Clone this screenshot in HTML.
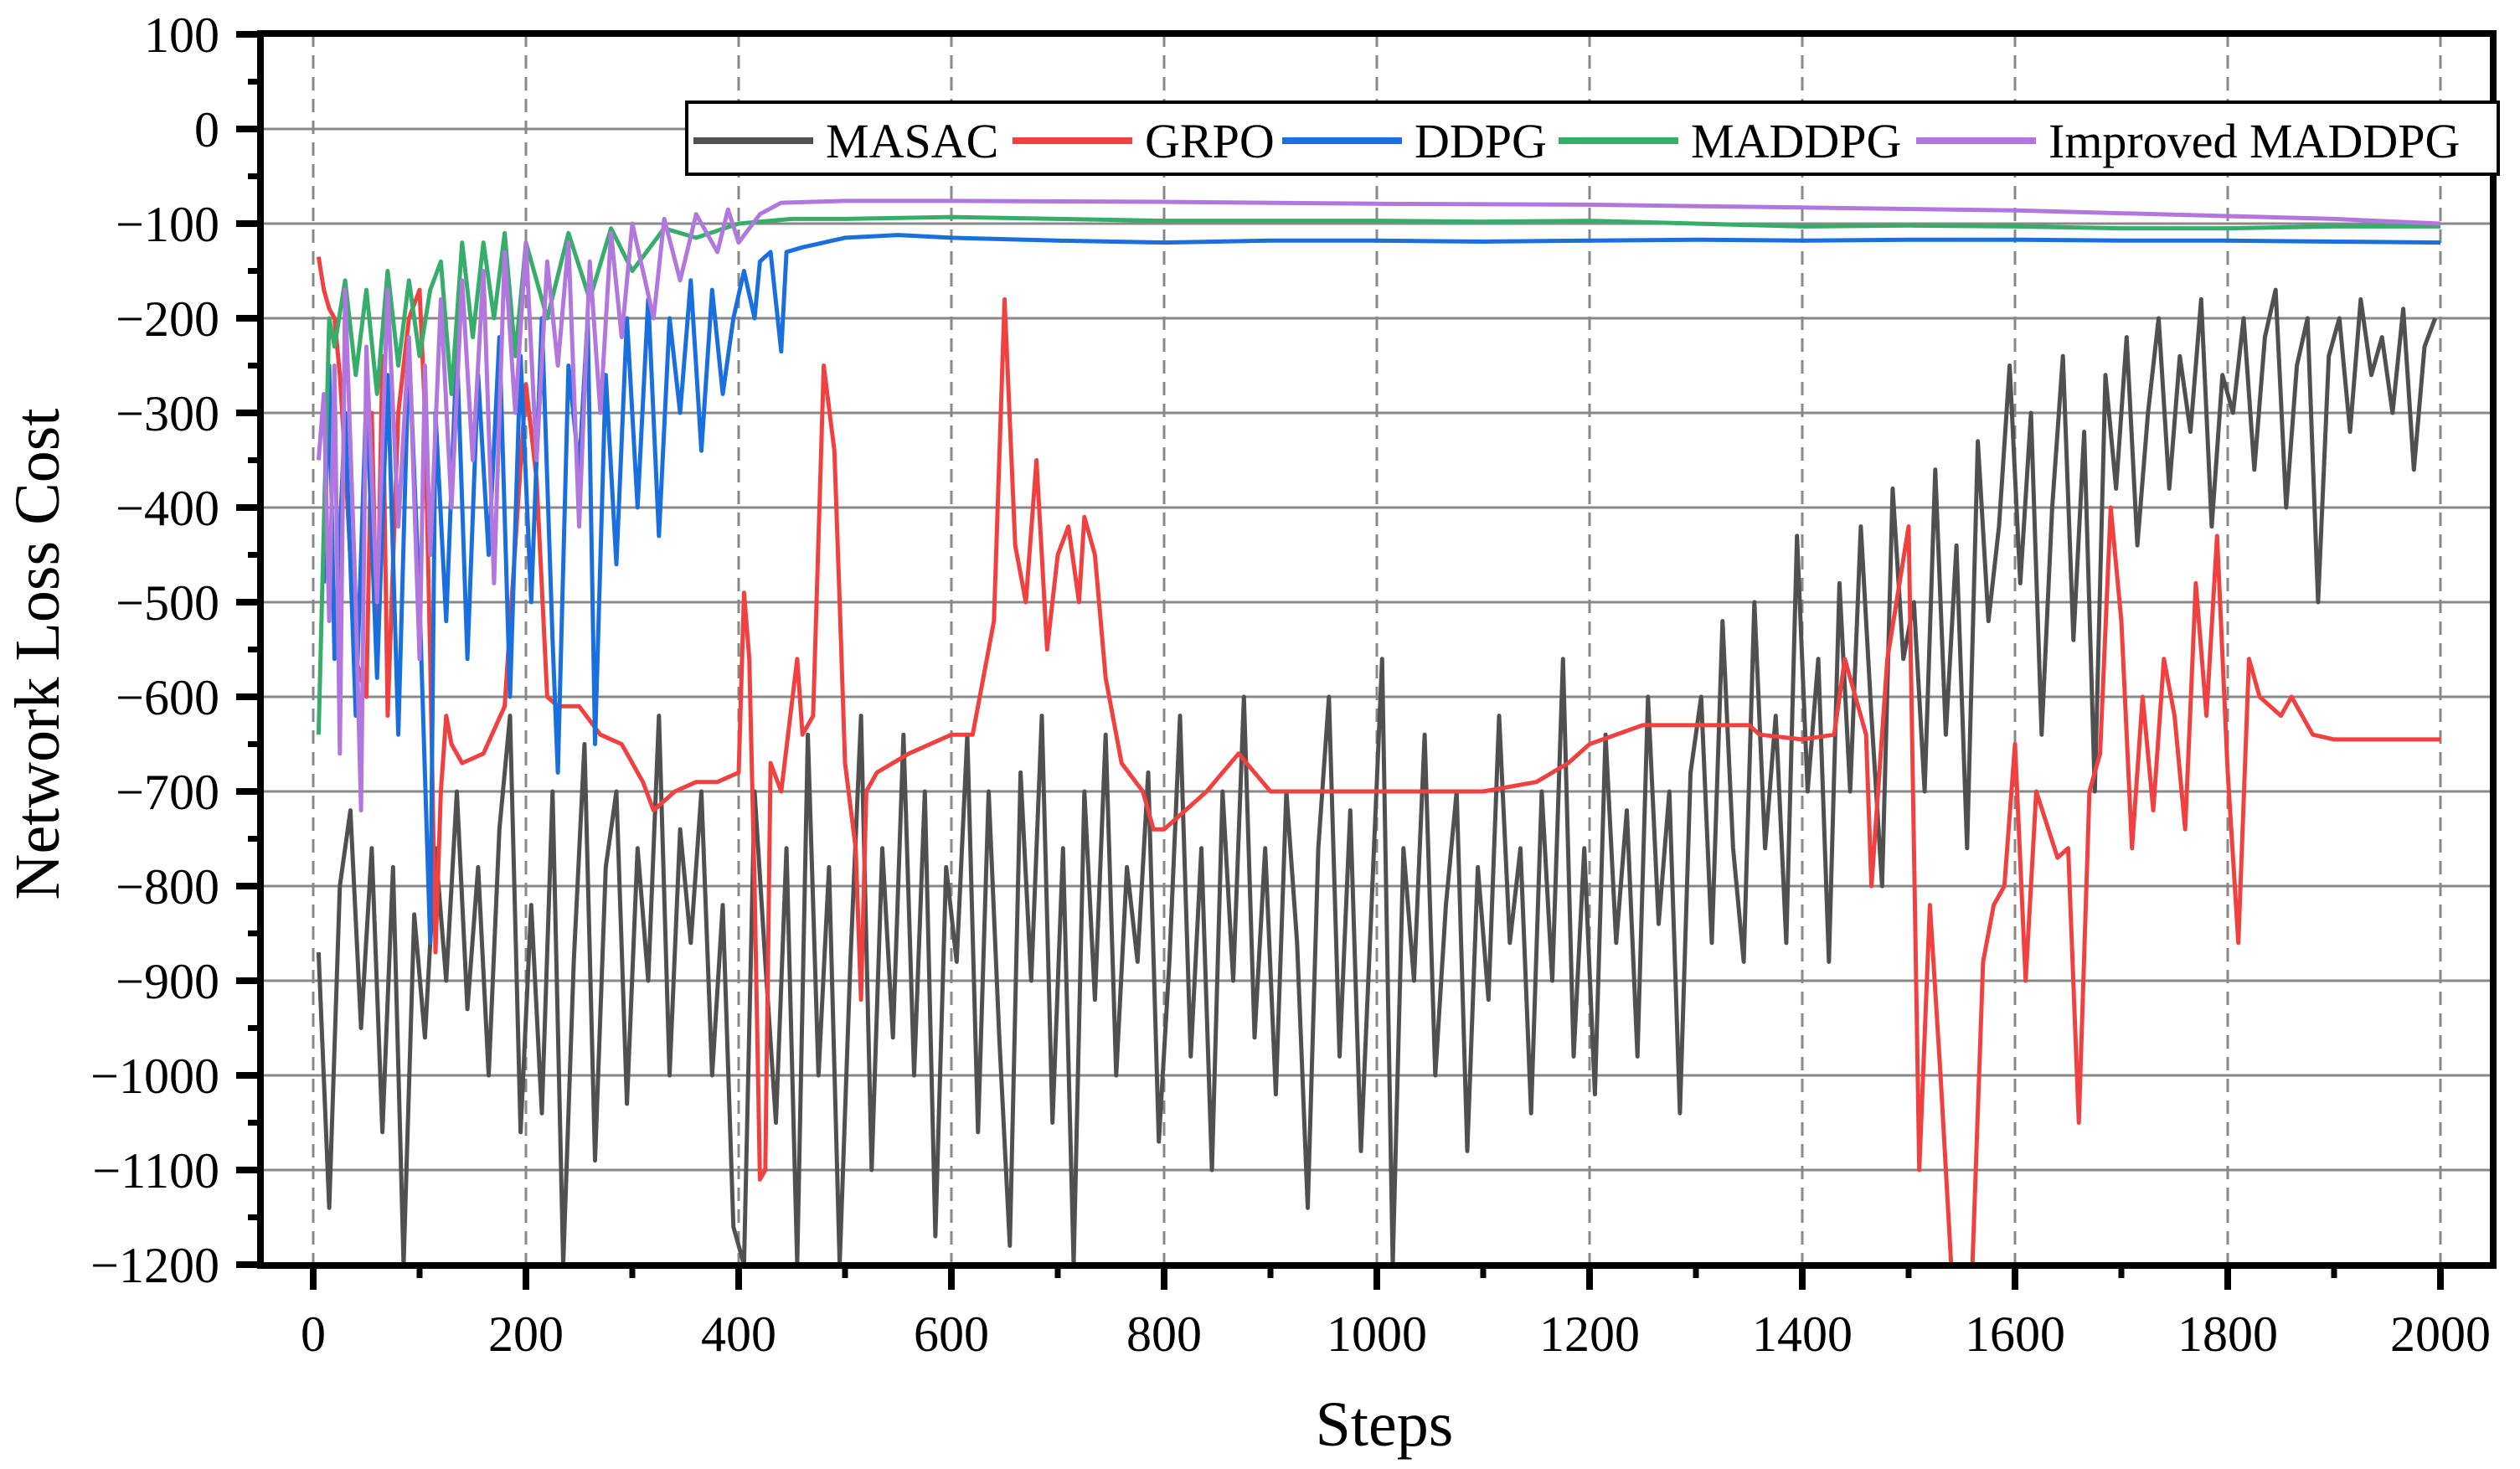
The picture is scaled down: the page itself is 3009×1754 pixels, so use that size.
<!DOCTYPE html>
<html><head><meta charset="utf-8">
<style>
html,body{margin:0;padding:0;background:#fff;}
svg{display:block;}
svg text{font-family:"Liberation Serif","DejaVu Serif",serif;}
</style></head>
<body>
<svg id="chart" width="3009" height="1754" viewBox="0 0 3009 1754" xmlns="http://www.w3.org/2000/svg" font-family="Liberation Serif, serif">
<defs><clipPath id="plotclip"><rect x="311" y="40" width="2666" height="1471"/></clipPath></defs>
<g id="grid"></g>
<g id="series" clip-path="url(#plotclip)"></g>
<g id="axes"></g>
<text font-family="Liberation Serif, serif" x="0" y="0" transform="translate(70,781) rotate(-90)" text-anchor="middle" font-size="76">Network Loss Cost</text>
<text font-family="Liberation Serif, serif" x="1653" y="1726" text-anchor="middle" font-size="76">Steps</text>
<g id="legend"></g>
</svg>
<script>
const xTicks=[0,200,400,600,800,1000,1200,1400,1600,1800,2000];
const yTicks=[100,0,-100,-200,-300,-400,-500,-600,-700,-800,-900,-1000,-1100,-1200];
const seriesNames=["MASAC","GRPO","DDPG","MADDPG","Improved MADDPG"];
const seriesColors=["#505050","#f04040","#1a6fdf","#37ad6b","#b177de"];
const masacSteps=[];for(let i=0;i<200;i++)masacSteps.push(5+i*10);
const masacValues=[
-870,-1140,-800,-720,-950,-760,-1060,-780,-1200,-830,
-960,-760,-900,-700,-930,-780,-1000,-740,-620,-1060,
-820,-1040,-700,-1200,-880,-650,-1090,-780,-700,-1030,
-760,-900,-620,-1000,-740,-860,-700,-1000,-820,-1160,
-1200,-700,-880,-1050,-760,-1200,-640,-1000,-780,-1200,
-880,-620,-1100,-760,-960,-640,-1000,-700,-1170,-780,
-880,-640,-1060,-700,-960,-1180,-680,-900,-620,-1050,
-760,-1200,-700,-920,-640,-1000,-780,-880,-680,-1070,
-880,-620,-980,-760,-1100,-700,-900,-600,-960,-760,
-1020,-700,-860,-1140,-760,-600,-980,-720,-1080,-820,
-560,-1200,-760,-900,-640,-1000,-820,-700,-1080,-780,
-920,-620,-860,-760,-1040,-700,-900,-560,-980,-760,
-1020,-640,-860,-720,-980,-600,-840,-700,-1040,-680,
-600,-860,-520,-760,-880,-500,-760,-620,-860,-430,
-700,-560,-880,-480,-700,-420,-620,-800,-380,-560,
-500,-700,-360,-640,-440,-760,-330,-520,-420,-250,
-480,-300,-640,-400,-240,-540,-320,-700,-260,-380,
-220,-440,-300,-200,-380,-240,-320,-180,-420,-260,
-300,-200,-360,-220,-170,-400,-250,-200,-500,-240,
-200,-320,-180,-260,-220,-300,-190,-360,-230,-200];
const grpoSteps=[5,10,15,20,25,30,40,50,55,60,65,70,80,90,100,105,110,115,120,125,130,140,160,180,200,210,220,230,250,270,290,310,320,340,360,380,400,405,410,415,420,425,430,440,455,460,470,480,490,495,500,510,515,520,530,560,600,620,640,650,660,670,680,690,700,710,720,725,735,745,760,780,790,800,840,870,900,1000,1100,1150,1180,1200,1250,1300,1350,1360,1400,1430,1440,1460,1465,1480,1500,1510,1520,1530,1540,1560,1570,1580,1590,1600,1610,1620,1640,1650,1660,1670,1680,1690,1700,1710,1720,1730,1740,1750,1760,1770,1780,1790,1800,1810,1820,1830,1850,1860,1880,1900,2000];
const grpoValues=[-135,-170,-190,-200,-260,-350,-560,-600,-300,-550,-240,-620,-300,-200,-170,-300,-560,-870,-700,-620,-650,-670,-660,-610,-270,-370,-600,-610,-610,-640,-650,-690,-720,-700,-690,-690,-680,-490,-560,-800,-1110,-1100,-670,-700,-560,-640,-620,-250,-340,-500,-670,-760,-920,-700,-680,-660,-640,-640,-520,-180,-440,-500,-350,-550,-450,-420,-500,-410,-450,-580,-670,-700,-740,-740,-700,-660,-700,-700,-700,-690,-670,-650,-630,-630,-630,-640,-645,-640,-560,-640,-800,-560,-420,-1100,-820,-1000,-1200,-1200,-880,-820,-800,-650,-900,-700,-770,-760,-1050,-700,-660,-400,-520,-760,-600,-720,-560,-620,-740,-480,-620,-430,-680,-860,-560,-600,-620,-600,-640,-645,-645];
const ddpgSteps=[10,15,20,30,40,50,60,70,80,90,100,110,115,125,135,145,155,165,175,185,195,205,215,225,230,240,250,258,265,275,285,295,305,315,325,335,345,355,365,375,385,395,405,415,420,430,440,445,460,500,550,600,700,800,900,1000,1100,1200,1300,1400,1500,1600,1700,1800,1900,2000];
const ddpgValues=[-480,-250,-560,-300,-620,-280,-580,-260,-640,-230,-500,-860,-300,-520,-230,-560,-260,-450,-220,-600,-240,-500,-200,-540,-680,-250,-360,-200,-650,-260,-460,-200,-400,-180,-430,-200,-300,-160,-340,-170,-280,-200,-150,-200,-140,-130,-235,-130,-125,-115,-112,-115,-118,-120,-118,-118,-119,-118,-117,-118,-117,-117,-118,-118,-119,-120];
const maddpgSteps=[5,10,15,20,30,40,50,60,70,80,90,100,110,120,130,140,150,160,170,180,190,200,220,240,260,280,300,330,360,400,450,500,600,700,800,900,1000,1100,1200,1300,1400,1500,1600,1700,1800,1900,2000];
const maddpgValues=[-640,-420,-200,-230,-160,-260,-170,-280,-150,-250,-160,-240,-170,-140,-280,-120,-220,-120,-200,-110,-240,-120,-200,-110,-180,-105,-150,-105,-115,-100,-95,-95,-93,-95,-97,-97,-97,-98,-97,-100,-103,-102,-103,-105,-105,-103,-103];
const improvedSteps=[5,10,15,20,25,30,40,45,50,60,70,80,90,100,105,110,120,130,140,150,160,170,180,190,200,210,220,230,240,250,260,270,280,290,300,320,330,345,360,380,390,400,420,440,500,600,800,1000,1200,1400,1600,1800,1900,2000];
const improvedValues=[-350,-280,-520,-250,-660,-170,-500,-720,-230,-500,-170,-420,-220,-560,-250,-450,-180,-400,-160,-350,-150,-480,-130,-300,-120,-350,-140,-250,-120,-420,-140,-300,-110,-220,-100,-200,-95,-160,-90,-130,-85,-120,-90,-78,-76,-76,-77,-79,-80,-83,-86,-92,-95,-100];

const NS="http://www.w3.org/2000/svg";
const FONT="Liberation Serif, serif";
const X0=311,X1=2977,Y0=40,Y1=1511;
function xs(v){return 374+(v/2000)*2540;}
function ys(v){return 154-(v/100)*113;}
function mk(tag,attrs,parent){const e=document.createElementNS(NS,tag);for(const k in attrs)e.setAttribute(k,attrs[k]);parent.appendChild(e);return e;}
const grid=document.getElementById('grid'),axes=document.getElementById('axes'),ser=document.getElementById('series'),leg=document.getElementById('legend');
yTicks.forEach(t=>{const y=ys(t);if(t<100&&t>-1200){const g=mk('line',{x1:X0,x2:X1,y1:y,y2:y,stroke:'#888',"stroke-width":3},grid);

}
const tk=mk('line',{x1:X0-29,x2:X0,y1:y,y2:y,stroke:'#000',"stroke-width":8},axes);


const lb=mk('text',{x:262,y:y+21,"text-anchor":"end","font-size":60,"font-family":FONT},axes);


lb.textContent=(t<0?'\u2212'+(-t):String(t));});
for(let v=50;v>-1200;v-=100){const y=ys(v);const m=mk('line',{x1:X0-15,x2:X0,y1:y,y2:y,stroke:'#000',"stroke-width":7},axes);

}
xTicks.forEach(t=>{const x=xs(t);const g=mk('line',{x1:x,x2:x,y1:Y0,y2:Y1,stroke:'#888',"stroke-width":3,"stroke-dasharray":"16 10"},grid);


const tk=mk('line',{x1:x,x2:x,y1:Y1,y2:Y1+29,stroke:'#000',"stroke-width":8},axes);


const lb=mk('text',{x:x,y:1613,"text-anchor":"middle","font-size":60,"font-family":FONT},axes);


lb.textContent=String(t);});
for(let v=100;v<2000;v+=200){const x=xs(v);const m=mk('line',{x1:x,x2:x,y1:Y1,y2:Y1+15,stroke:'#000',"stroke-width":7},axes);

}
const frame=mk('rect',{x:X0,y:Y0,width:X1-X0,height:Y1-Y0,fill:'none',stroke:'#000',"stroke-width":8},axes);


const allSteps=[masacSteps,grpoSteps,ddpgSteps,maddpgSteps,improvedSteps];
const allVals=[masacValues,grpoValues,ddpgValues,maddpgValues,improvedValues];
const lineNames=['masac-line','grpo-line','ddpg-line','maddpg-line','improved-maddpg-line'];
for(let s=0;s<5;s++){let d='';allSteps[s].forEach((st,i)=>{d+=(i?'L':'M')+xs(st).toFixed(1)+','+ys(allVals[s][i]).toFixed(1);});
const p=mk('path',{d:d,fill:'none',stroke:seriesColors[s],"stroke-width":5,"stroke-linejoin":"round"},ser);

}
const box=mk('rect',{x:820,y:122,width:2163,height:86,fill:'#fff',stroke:'#000',"stroke-width":4},leg);


const lx=[828,1209,1531,1861,2288];
for(let s=0;s<5;s++){const ln=mk('line',{x1:lx[s],x2:lx[s]+143,y1:168,y2:168,stroke:seriesColors[s],"stroke-width":8},leg);


const tx=mk('text',{x:lx[s]+158,y:188,"font-size":58,"font-family":FONT},leg);


tx.textContent=seriesNames[s];}
</script>
</body></html>
